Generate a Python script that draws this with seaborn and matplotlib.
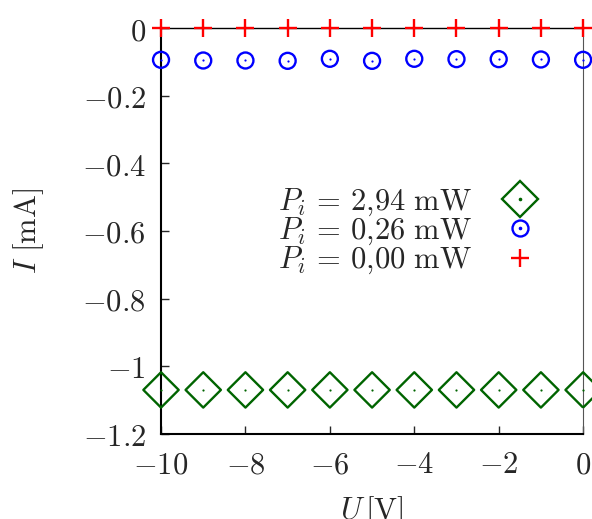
import numpy as np
import pandas as pd
import seaborn as sns
import matplotlib.pyplot as plt
from matplotlib.lines import Line2D
from matplotlib.legend_handler import HandlerTuple

# --- data ---
u_volts = [-10, -9, -8, -7, -6, -5, -4, -3, -2, -1, 0]
i_294 = [-1.07, -1.07, -1.07, -1.07, -1.07, -1.07, -1.07, -1.07, -1.07, -1.07, -1.07]
i_026 = [-0.094, -0.096, -0.096, -0.097, -0.091, -0.097, -0.091, -0.092, -0.092, -0.093, -0.094]
i_000 = [0, 0, 0, 0, 0, 0, 0, 0, 0, 0, 0]
labels = [r'$P_i\,=\,2{,}94\ \mathrm{mW}$',
          r'$P_i\,=\,0{,}26\ \mathrm{mW}$',
          r'$P_i\,=\,0{,}00\ \mathrm{mW}$']
x_ticks = [-10, -8, -6, -4, -2, 0]
y_ticks = [0, -0.2, -0.4, -0.6, -0.8, -1.0, -1.2]
y_ticklabels = ['0', '-0.2', '-0.4', '-0.6', '-0.8', '-1', '-1.2']

sns.set_style('ticks')
plt.rcParams['mathtext.fontset'] = 'cm'
plt.rcParams['font.family'] = ['DejaVu Serif']

GREEN = '#006400'
BLUE = '#0000ff'
RED = '#ff0000'
FS = 22
LW = 1.7

df = pd.DataFrame({'U': u_volts, 'I294': i_294, 'I026': i_026, 'I000': i_000})

fig = plt.figure(figsize=(5.92, 5.19), dpi=100)
ax = fig.add_axes([0.272, 0.164, 0.713, 0.782])

# green diamonds with centre dot
sns.scatterplot(data=df, x='U', y='I294', ax=ax, marker='D', s=18**2, facecolor='none',
                edgecolor=GREEN, linewidth=LW, clip_on=False, zorder=3)
sns.scatterplot(data=df, x='U', y='I294', ax=ax, marker='o', s=2.5, color=GREEN,
                linewidth=0, clip_on=False, zorder=4)
# blue circles with centre dot
sns.scatterplot(data=df, x='U', y='I026', ax=ax, marker='o', s=11.5**2, facecolor='none',
                edgecolor=BLUE, linewidth=LW, clip_on=False, zorder=3)
sns.scatterplot(data=df, x='U', y='I026', ax=ax, marker='o', s=2.5, color=BLUE,
                linewidth=0, clip_on=False, zorder=4)
# red plus
sns.scatterplot(data=df, x='U', y='I000', ax=ax, marker='+', s=13.5**2, color=RED,
                linewidth=LW, clip_on=False, zorder=3)

ax.set_xlim(-10, 0)
ax.set_ylim(-1.2, 0)
ax.set_xticks(x_ticks)
ax.set_xticklabels([f'${t}$' for t in x_ticks])
ax.set_yticks(y_ticks)
ax.set_yticklabels([f'${t}$' for t in y_ticklabels])
ax.tick_params(direction='in', length=6, width=1, labelsize=FS, top=False, right=False)
ax.tick_params(axis='x', pad=11)
ax.tick_params(axis='y', pad=11)

for side in ['left', 'bottom']:
    ax.spines[side].set_linewidth(1.5)
    ax.spines[side].set_color('black')
ax.spines['top'].set_linewidth(1.0)
ax.spines['top'].set_color('black')
ax.spines['right'].set_linewidth(0.8)
ax.spines['right'].set_color('#555555')

ax.set_xlabel(r'$U\,[\mathrm{V}]$', fontsize=FS, labelpad=10)
ax.set_ylabel(r'$I\ [\mathrm{mA}]$', fontsize=FS, labelpad=26)

h294 = (Line2D([], [], ls='none', marker='D', ms=18, mfc='none', mec=GREEN, mew=LW),
        Line2D([], [], ls='none', marker='o', ms=1.6, color=GREEN))
h026 = (Line2D([], [], ls='none', marker='o', ms=11.5, mfc='none', mec=BLUE, mew=LW),
        Line2D([], [], ls='none', marker='o', ms=1.6, color=BLUE))
h000 = Line2D([], [], ls='none', marker='+', ms=13.5, color=RED, mew=LW)
leg = ax.legend([h294, h026, h000], labels,
                handler_map={tuple: HandlerTuple(ndivide=1, pad=0)},
                markerfirst=False, frameon=False, fontsize=FS, loc='upper right',
                bbox_to_anchor=(0.886, 0.611), labelspacing=-0.1, handlelength=1.0,
                handletextpad=1.08, borderaxespad=0, borderpad=0)

fig.savefig('out.png', dpi=100)
